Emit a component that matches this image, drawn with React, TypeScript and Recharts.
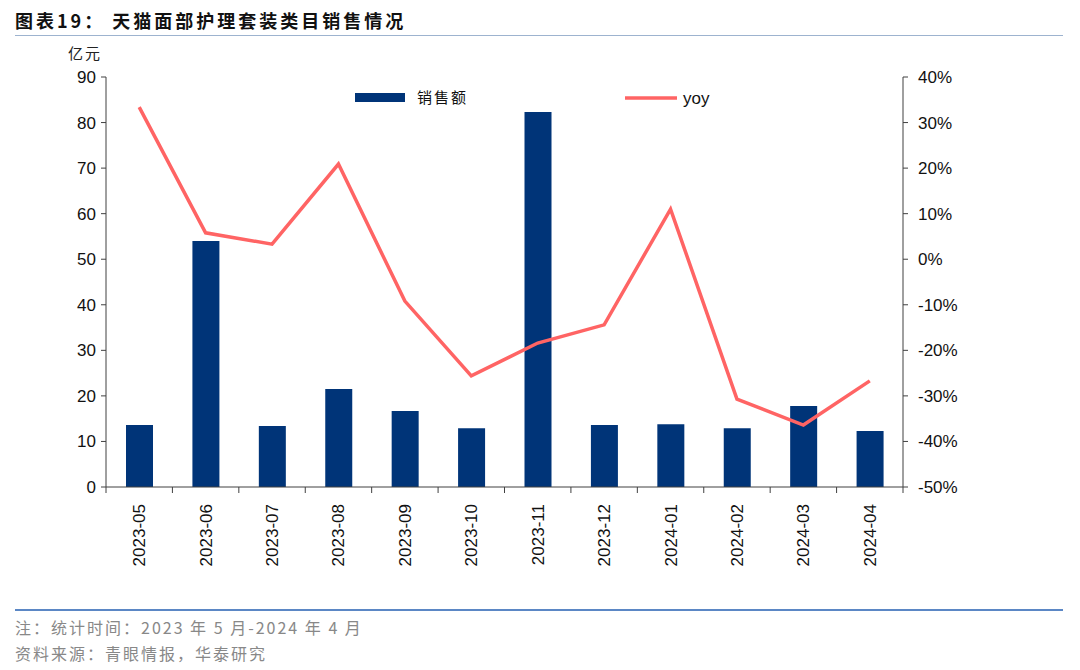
import { Bar, ComposedChart, Line, XAxis, YAxis } from "recharts";

const months = [
  "2023-05", "2023-06", "2023-07", "2023-08", "2023-09", "2023-10",
  "2023-11", "2023-12", "2024-01", "2024-02", "2024-03", "2024-04",
];
const sales = [13.6, 54.0, 13.4, 21.5, 16.7, 12.9, 82.3, 13.6, 13.8, 12.9, 17.8, 12.3];
const yoy = [33.4, 5.8, 3.3, 20.9, -9.2, -25.6, -18.4, -14.4, 11.0, -30.7, -36.4, -26.7];
const leftTicks = [0, 10, 20, 30, 40, 50, 60, 70, 80, 90];
const rightTicks = [-50, -40, -30, -20, -10, 0, 10, 20, 30, 40];

const data = months.map((m, i) => ({ month: m, sales: sales[i], yoy: yoy[i] }));

const font = "'Liberation Sans', Arial, sans-serif";
const cjk = "'Noto Sans CJK SC', sans-serif";
const navy = "#003478";
const red = "#FF6464";
const axisColor = "#404040";

const MonthTick = (props: any) => {
  const { x, y, payload, index } = props;
  const band = 797 / months.length;
  return (
    <g>
      <line x1={x - band / 2} x2={x - band / 2} y1={y - 8} y2={y - 2} stroke={axisColor} />
      {index === months.length - 1 && (
        <line x1={x + band / 2} x2={x + band / 2} y1={y - 8} y2={y - 2} stroke={axisColor} />
      )}
      <text
        x={0}
        y={0}
        transform={`translate(${x + 6}, ${y + 9}) rotate(-90)`}
        textAnchor="end"
        fontSize={17}
        fontFamily={font}
        fill="#111"
      >
        {payload.value}
      </text>
    </g>
  );
};

const LegendBox = () => (
  <svg width={500} height={30} style={{ position: "absolute", left: 355, top: 83, overflow: "visible" }}>
    <rect x={0} y={10} width={50} height={9} fill={navy} />
    <text x={62} y={20} fontSize={15} fontFamily={cjk} fill="#111" letterSpacing={2}>销售额</text>
    <line x1={270} x2={322} y1={15} y2={15} stroke={red} strokeWidth={3.5} />
    <text x={328} y={21} fontSize={17} fontFamily={font} fill="#111">yoy</text>
  </svg>
);

export default function App() {
  return (
    <div style={{ position: "absolute", left: 0, top: 0, width: 1080, height: 670, background: "#fff" }}>
      <div
        style={{
          position: "absolute", left: 15, top: 7, fontFamily: cjk, fontWeight: 700,
          fontSize: 18, color: "#111", letterSpacing: 3, whiteSpace: "nowrap",
        }}
      >
        图表19：&nbsp;天猫面部护理套装类目销售情况
      </div>
      <div style={{ position: "absolute", left: 15, top: 35, width: 1048, height: 1, background: "#9db3cf" }} />
      <div style={{ position: "absolute", left: 68, top: 42, fontFamily: cjk, fontSize: 15, color: "#222", letterSpacing: 2 }}>
        亿元
      </div>
      <ComposedChart
        width={1080}
        height={670}
        data={data}
        margin={{ top: 77, right: 117, bottom: 103, left: 46 }}
      >
        <XAxis
          dataKey="month"
          xAxisId="x"
          height={80}
          tickLine={false}
          axisLine={{ stroke: axisColor }}
          tick={<MonthTick />}
          interval={0}
        />
        <YAxis
          yAxisId="left"
          domain={[0, 90]}
          ticks={leftTicks}
          width={60}
          tickSize={5}
          tickLine={{ stroke: axisColor }}
          axisLine={{ stroke: axisColor }}
          tick={{ fontSize: 17, fontFamily: font, fill: "#111", dx: -3 }}
          interval={0}
        />
        <YAxis
          yAxisId="right"
          orientation="right"
          domain={[-50, 40]}
          ticks={rightTicks}
          width={60}
          tickSize={5}
          tickLine={{ stroke: axisColor }}
          axisLine={{ stroke: axisColor }}
          tick={{ fontSize: 17, fontFamily: font, fill: "#111", textAnchor: "start", dx: 8 }}
          tickFormatter={(v: number) => `${v}%`}
          interval={0}
        />
        <Bar
          dataKey="sales"
          xAxisId="x"
          yAxisId="left"
          fill={navy}
          barSize={27}
          isAnimationActive={false}
        />
        <Line
          dataKey="yoy"
          xAxisId="x"
          yAxisId="right"
          stroke={red}
          strokeWidth={3.5}
          dot={false}
          type="linear"
          isAnimationActive={false}
        />
      </ComposedChart>
      <LegendBox />
      <div style={{ position: "absolute", left: 15, top: 609, width: 1048, height: 2, background: "#5b87c5" }} />
      <div style={{ position: "absolute", left: 15, top: 615, fontFamily: cjk, fontSize: 16, color: "#888", letterSpacing: 2, whiteSpace: "pre" }}>
        注：统计时间：2023 年 5 月-2024 年 4 月
      </div>
      <div style={{ position: "absolute", left: 15, top: 641, fontFamily: cjk, fontSize: 16, color: "#888", letterSpacing: 2 }}>
        资料来源：青眼情报，华泰研究
      </div>
    </div>
  );
}
